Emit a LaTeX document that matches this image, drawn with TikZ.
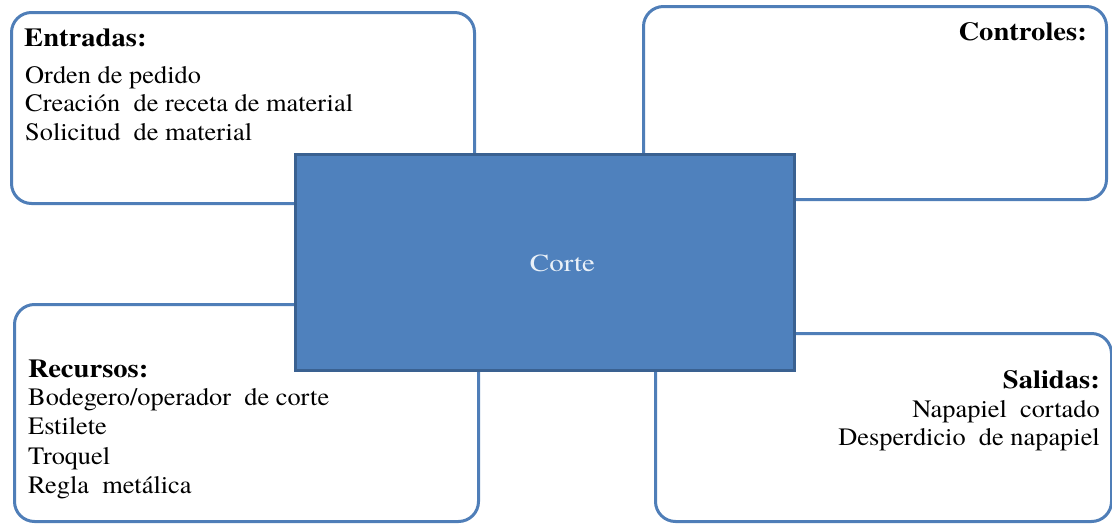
\documentclass[tikz,border=0pt]{standalone}
\usepackage{fontspec}
\setmainfont{texgyretermes}[Extension=.otf, UprightFont=*-regular, BoldFont=*-bold, ItalicFont=*-italic, BoldItalicFont=*-bolditalic, FakeStretch=1.055]
\newfontfamily\headfont{texgyretermes}[Extension=.otf, UprightFont=*-bold, FakeStretch=1.1]
\definecolor{frameblue}{HTML}{4F7EB8}
\definecolor{procfill}{HTML}{4F81BD}
\definecolor{procedge}{HTML}{3A6191}
\definecolor{proctext}{HTML}{EAF1F8}
\tikzset{
  panel/.style={draw=frameblue, line width=3pt, fill=white, rounded corners=20pt,
    rectangle, anchor=north west, inner sep=0pt},
  process/.style={draw=procedge, line width=3pt, fill=procfill, rectangle,
    anchor=north west, inner sep=0pt},
  heading/.style={font=\fontsize{26}{28}\selectfont\headfont, inner sep=0pt},
  items/.style={font=\fontsize{25}{28.6}\selectfont, inner sep=0pt},
}
\begin{document}
\begin{tikzpicture}[x=1pt,y=-1pt]
\useasboundingbox (0,0) rectangle (1112,525);
% the four surrounding panels
\node[panel, minimum width=463pt, minimum height=191pt] (ent) at (10,11) {};
\node[panel, minimum width=463pt, minimum height=193pt] (ctl) at (642,5) {};
\node[panel, minimum width=464pt, minimum height=217pt] (rec) at (13,303) {};
\node[panel, minimum width=456pt, minimum height=188pt] (sal) at (654,332) {};
% central process
\node[process, minimum width=499pt, minimum height=216pt] (proc) at (294,153) {};
\node[font=\fontsize{24.5}{28}\selectfont, text=proctext, inner sep=0pt, anchor=base]
  (corte) at (562.5,271) {\scalebox{1.12}[1]{Corte}};
% panel texts
\node[heading, anchor=base west] (entT) at (24,46) {Entradas:};
\node[items, anchor=north west, align=left] (entL) at (25,66)
  {Orden de pedido\\Creación\ \ de receta de material\\Solicitud\ \ de material};
\node[heading, anchor=base east] (ctlT) at (1087,40) {Controles:};
\node[heading, anchor=base west] (recT) at (28,377) {Recursos:};
\node[items, anchor=north west, align=left, font=\fontsize{25}{29.5}\selectfont] (recL) at (28,388)
  {Bodegero/operador\ \ de corte\\Estilete\\Troquel\\Regla\ \ metálica};
\node[heading, anchor=base east] (salT) at (1100,388) {Salidas:};
\node[items, anchor=north east, align=right] (salL) at (1100,400)
  {Napapiel\ \ cortado\\Desperdicio\ \ de napapiel};
\end{tikzpicture}
\end{document}
